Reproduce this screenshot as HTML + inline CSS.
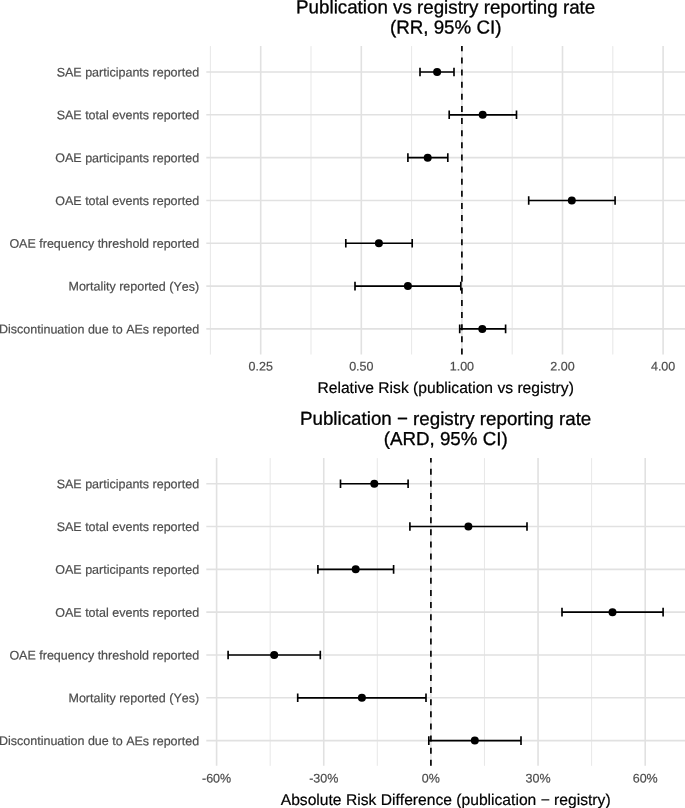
<!DOCTYPE html>
<html><head><meta charset="utf-8"><title>Forest plots</title>
<style>
html,body{margin:0;padding:0;background:#fff}
svg{display:block;font-family:"Liberation Sans", Arial, Helvetica, sans-serif;text-rendering:geometricPrecision;font-kerning:none}
</style></head>
<body>
<svg width="685" height="808" viewBox="0 0 685 808">
<rect width="685" height="808" fill="#fff"/>
<g>
<line x1="210.4" y1="46.1" x2="210.4" y2="354.5" stroke="#E1E1E1" stroke-width="0.8"/>
<line x1="311.0" y1="46.1" x2="311.0" y2="354.5" stroke="#E1E1E1" stroke-width="0.8"/>
<line x1="411.6" y1="46.1" x2="411.6" y2="354.5" stroke="#E1E1E1" stroke-width="0.8"/>
<line x1="512.2" y1="46.1" x2="512.2" y2="354.5" stroke="#E1E1E1" stroke-width="0.8"/>
<line x1="612.8" y1="46.1" x2="612.8" y2="354.5" stroke="#E1E1E1" stroke-width="0.8"/>
<line x1="260.7" y1="46.1" x2="260.7" y2="354.5" stroke="#E1E1E1" stroke-width="1.6"/>
<line x1="361.30" y1="46.1" x2="361.30" y2="354.5" stroke="#E1E1E1" stroke-width="1.6"/>
<line x1="461.9" y1="46.1" x2="461.9" y2="354.5" stroke="#E1E1E1" stroke-width="1.6"/>
<line x1="562.5" y1="46.1" x2="562.5" y2="354.5" stroke="#E1E1E1" stroke-width="1.6"/>
<line x1="663.10" y1="46.1" x2="663.10" y2="354.5" stroke="#E1E1E1" stroke-width="1.6"/>
<line x1="206.3" y1="72.0" x2="685" y2="72.0" stroke="#E1E1E1" stroke-width="1.6"/>
<line x1="206.3" y1="114.82" x2="685" y2="114.82" stroke="#E1E1E1" stroke-width="1.6"/>
<line x1="206.3" y1="157.64" x2="685" y2="157.64" stroke="#E1E1E1" stroke-width="1.6"/>
<line x1="206.3" y1="200.46" x2="685" y2="200.46" stroke="#E1E1E1" stroke-width="1.6"/>
<line x1="206.3" y1="243.28" x2="685" y2="243.28" stroke="#E1E1E1" stroke-width="1.6"/>
<line x1="206.3" y1="286.1" x2="685" y2="286.1" stroke="#E1E1E1" stroke-width="1.6"/>
<line x1="206.3" y1="328.92" x2="685" y2="328.92" stroke="#E1E1E1" stroke-width="1.6"/>
<line x1="461.9" y1="354.5" x2="461.9" y2="46.1" stroke="#000" stroke-width="1.65" stroke-dasharray="6 6.13"/>
<path d="M420.0 72.0H454.0M420.0 67.7V76.3M454.0 67.7V76.3" stroke="#000" stroke-width="1.65" fill="none"/>
<circle cx="437.1" cy="72.0" r="4" fill="#000"/>
<path d="M449.2 114.82H516.5M449.2 110.52V119.12M516.5 110.52V119.12" stroke="#000" stroke-width="1.65" fill="none"/>
<circle cx="482.7" cy="114.82" r="4" fill="#000"/>
<path d="M407.9 157.64H447.8M407.9 153.34V161.94M447.8 153.34V161.94" stroke="#000" stroke-width="1.65" fill="none"/>
<circle cx="427.7" cy="157.64" r="4" fill="#000"/>
<path d="M528.7 200.46H615.1M528.7 196.16V204.76M615.1 196.16V204.76" stroke="#000" stroke-width="1.65" fill="none"/>
<circle cx="571.8" cy="200.46" r="4" fill="#000"/>
<path d="M345.8 243.28H412.2M345.8 238.98V247.58M412.2 238.98V247.58" stroke="#000" stroke-width="1.65" fill="none"/>
<circle cx="378.9" cy="243.28" r="4" fill="#000"/>
<path d="M355.0 286.1H460.8M355.0 281.8V290.40M460.8 281.8V290.40" stroke="#000" stroke-width="1.65" fill="none"/>
<circle cx="407.9" cy="286.1" r="4" fill="#000"/>
<path d="M459.7 328.92H505.6M459.7 324.62V333.22M505.6 324.62V333.22" stroke="#000" stroke-width="1.65" fill="none"/>
<circle cx="482.3" cy="328.92" r="4" fill="#000"/>
<text transform="translate(199.1 76.55) rotate(0.03)" text-anchor="end" font-size="12.5" fill="#4D4D4D" stroke="#4D4D4D" stroke-width="0.2">SAE participants reported</text>
<text transform="translate(199.1 119.37) rotate(0.03)" text-anchor="end" font-size="12.5" fill="#4D4D4D" stroke="#4D4D4D" stroke-width="0.2">SAE total events reported</text>
<text transform="translate(199.1 162.19) rotate(0.03)" text-anchor="end" font-size="12.5" fill="#4D4D4D" stroke="#4D4D4D" stroke-width="0.2">OAE participants reported</text>
<text transform="translate(199.1 205.01) rotate(0.03)" text-anchor="end" font-size="12.5" fill="#4D4D4D" stroke="#4D4D4D" stroke-width="0.2">OAE total events reported</text>
<text transform="translate(199.1 247.83) rotate(0.03)" text-anchor="end" font-size="12.5" fill="#4D4D4D" stroke="#4D4D4D" stroke-width="0.2">OAE frequency threshold reported</text>
<text transform="translate(199.1 290.65) rotate(0.03)" text-anchor="end" font-size="12.5" fill="#4D4D4D" stroke="#4D4D4D" stroke-width="0.2">Mortality reported (Yes)</text>
<text transform="translate(199.1 333.47) rotate(0.03)" text-anchor="end" font-size="12.5" fill="#4D4D4D" stroke="#4D4D4D" stroke-width="0.2">Discontinuation due to AEs reported</text>
<text transform="translate(260.70 370.6) rotate(0.03)" text-anchor="middle" font-size="12.5" fill="#4D4D4D" stroke="#4D4D4D" stroke-width="0.2">0.25</text>
<text transform="translate(361.30 370.6) rotate(0.03)" text-anchor="middle" font-size="12.5" fill="#4D4D4D" stroke="#4D4D4D" stroke-width="0.2">0.50</text>
<text transform="translate(461.90 370.6) rotate(0.03)" text-anchor="middle" font-size="12.5" fill="#4D4D4D" stroke="#4D4D4D" stroke-width="0.2">1.00</text>
<text transform="translate(562.50 370.6) rotate(0.03)" text-anchor="middle" font-size="12.5" fill="#4D4D4D" stroke="#4D4D4D" stroke-width="0.2">2.00</text>
<text transform="translate(663.10 370.6) rotate(0.03)" text-anchor="middle" font-size="12.5" fill="#4D4D4D" stroke="#4D4D4D" stroke-width="0.2">4.00</text>
<text transform="translate(445.65 13.4) rotate(0.03)" text-anchor="middle" font-size="18.75" fill="#000" stroke="#000" stroke-width="0.3">Publication vs registry reporting rate</text>
<text transform="translate(445.65 33.6) rotate(0.03)" text-anchor="middle" font-size="18.75" fill="#000" stroke="#000" stroke-width="0.3">(RR, 95% CI)</text>
<text transform="translate(445.65 393.0) rotate(0.03)" text-anchor="middle" font-size="15.65" fill="#000" stroke="#000" stroke-width="0.2">Relative Risk (publication vs registry)</text>
</g>
<g>
<line x1="270.17" y1="458.1" x2="270.17" y2="765.8" stroke="#E1E1E1" stroke-width="0.8"/>
<line x1="377.32" y1="458.1" x2="377.32" y2="765.8" stroke="#E1E1E1" stroke-width="0.8"/>
<line x1="484.47" y1="458.1" x2="484.47" y2="765.8" stroke="#E1E1E1" stroke-width="0.8"/>
<line x1="591.62" y1="458.1" x2="591.62" y2="765.8" stroke="#E1E1E1" stroke-width="0.8"/>
<line x1="216.6" y1="458.1" x2="216.6" y2="765.8" stroke="#E1E1E1" stroke-width="1.6"/>
<line x1="323.75" y1="458.1" x2="323.75" y2="765.8" stroke="#E1E1E1" stroke-width="1.6"/>
<line x1="430.9" y1="458.1" x2="430.9" y2="765.8" stroke="#E1E1E1" stroke-width="1.6"/>
<line x1="538.05" y1="458.1" x2="538.05" y2="765.8" stroke="#E1E1E1" stroke-width="1.6"/>
<line x1="645.2" y1="458.1" x2="645.2" y2="765.8" stroke="#E1E1E1" stroke-width="1.6"/>
<line x1="206.3" y1="483.7" x2="685" y2="483.7" stroke="#E1E1E1" stroke-width="1.6"/>
<line x1="206.3" y1="526.52" x2="685" y2="526.52" stroke="#E1E1E1" stroke-width="1.6"/>
<line x1="206.3" y1="569.34" x2="685" y2="569.34" stroke="#E1E1E1" stroke-width="1.6"/>
<line x1="206.3" y1="612.16" x2="685" y2="612.16" stroke="#E1E1E1" stroke-width="1.6"/>
<line x1="206.3" y1="654.98" x2="685" y2="654.98" stroke="#E1E1E1" stroke-width="1.6"/>
<line x1="206.3" y1="697.8" x2="685" y2="697.8" stroke="#E1E1E1" stroke-width="1.6"/>
<line x1="206.3" y1="740.62" x2="685" y2="740.62" stroke="#E1E1E1" stroke-width="1.6"/>
<line x1="430.9" y1="765.8" x2="430.9" y2="458.1" stroke="#000" stroke-width="1.65" stroke-dasharray="6 6.13"/>
<path d="M340.5 483.7H408.1M340.5 479.4V488.0M408.1 479.4V488.0" stroke="#000" stroke-width="1.65" fill="none"/>
<circle cx="374.3" cy="483.7" r="4" fill="#000"/>
<path d="M409.9 526.52H527.0M409.9 522.22V530.82M527.0 522.22V530.82" stroke="#000" stroke-width="1.65" fill="none"/>
<circle cx="468.4" cy="526.52" r="4" fill="#000"/>
<path d="M317.9 569.34H393.6M317.9 565.04V573.64M393.6 565.04V573.64" stroke="#000" stroke-width="1.65" fill="none"/>
<circle cx="355.7" cy="569.34" r="4" fill="#000"/>
<path d="M562.0 612.16H663.1M562.0 607.86V616.46M663.1 607.86V616.46" stroke="#000" stroke-width="1.65" fill="none"/>
<circle cx="612.5" cy="612.16" r="4" fill="#000"/>
<path d="M228.1 654.98H320.3M228.1 650.68V659.28M320.3 650.68V659.28" stroke="#000" stroke-width="1.65" fill="none"/>
<circle cx="274.2" cy="654.98" r="4" fill="#000"/>
<path d="M297.7 697.8H426.0M297.7 693.5V702.10M426.0 693.5V702.10" stroke="#000" stroke-width="1.65" fill="none"/>
<circle cx="361.9" cy="697.8" r="4" fill="#000"/>
<path d="M428.8 740.62H521.0M428.8 736.32V744.92M521.0 736.32V744.92" stroke="#000" stroke-width="1.65" fill="none"/>
<circle cx="474.8" cy="740.62" r="4" fill="#000"/>
<text transform="translate(199.1 488.25) rotate(0.03)" text-anchor="end" font-size="12.5" fill="#4D4D4D" stroke="#4D4D4D" stroke-width="0.2">SAE participants reported</text>
<text transform="translate(199.1 531.07) rotate(0.03)" text-anchor="end" font-size="12.5" fill="#4D4D4D" stroke="#4D4D4D" stroke-width="0.2">SAE total events reported</text>
<text transform="translate(199.1 573.89) rotate(0.03)" text-anchor="end" font-size="12.5" fill="#4D4D4D" stroke="#4D4D4D" stroke-width="0.2">OAE participants reported</text>
<text transform="translate(199.1 616.71) rotate(0.03)" text-anchor="end" font-size="12.5" fill="#4D4D4D" stroke="#4D4D4D" stroke-width="0.2">OAE total events reported</text>
<text transform="translate(199.1 659.53) rotate(0.03)" text-anchor="end" font-size="12.5" fill="#4D4D4D" stroke="#4D4D4D" stroke-width="0.2">OAE frequency threshold reported</text>
<text transform="translate(199.1 702.35) rotate(0.03)" text-anchor="end" font-size="12.5" fill="#4D4D4D" stroke="#4D4D4D" stroke-width="0.2">Mortality reported (Yes)</text>
<text transform="translate(199.1 745.17) rotate(0.03)" text-anchor="end" font-size="12.5" fill="#4D4D4D" stroke="#4D4D4D" stroke-width="0.2">Discontinuation due to AEs reported</text>
<text transform="translate(216.60 782.5) rotate(0.03)" text-anchor="middle" font-size="12.5" fill="#4D4D4D" stroke="#4D4D4D" stroke-width="0.2">-60%</text>
<text transform="translate(323.75 782.5) rotate(0.03)" text-anchor="middle" font-size="12.5" fill="#4D4D4D" stroke="#4D4D4D" stroke-width="0.2">-30%</text>
<text transform="translate(430.90 782.5) rotate(0.03)" text-anchor="middle" font-size="12.5" fill="#4D4D4D" stroke="#4D4D4D" stroke-width="0.2">0%</text>
<text transform="translate(538.05 782.5) rotate(0.03)" text-anchor="middle" font-size="12.5" fill="#4D4D4D" stroke="#4D4D4D" stroke-width="0.2">30%</text>
<text transform="translate(645.20 782.5) rotate(0.03)" text-anchor="middle" font-size="12.5" fill="#4D4D4D" stroke="#4D4D4D" stroke-width="0.2">60%</text>
<text transform="translate(445.65 424.9) rotate(0.03)" text-anchor="middle" font-size="18.75" fill="#000" stroke="#000" stroke-width="0.3">Publication − registry reporting rate</text>
<text transform="translate(445.65 445.1) rotate(0.03)" text-anchor="middle" font-size="18.75" fill="#000" stroke="#000" stroke-width="0.3">(ARD, 95% CI)</text>
<text transform="translate(445.65 805.0) rotate(0.03)" text-anchor="middle" font-size="15.65" fill="#000" stroke="#000" stroke-width="0.2">Absolute Risk Difference (publication − registry)</text>
</g>
</svg>
</body></html>
